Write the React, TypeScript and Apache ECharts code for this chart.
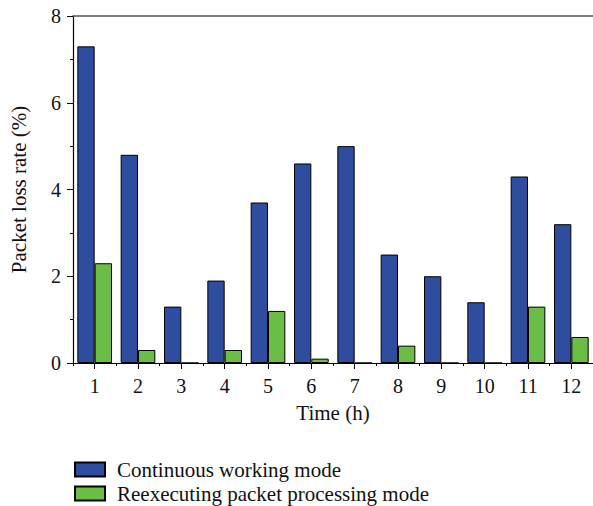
import React, { useEffect, useRef } from "react";
import * as echarts from "echarts";

const categories = ["1", "2", "3", "4", "5", "6", "7", "8", "9", "10", "11", "12"];
const continuousMode = [7.3, 4.8, 1.3, 1.9, 3.7, 4.6, 5.0, 2.5, 2.0, 1.4, 4.3, 3.2];
const reexecutingMode = [2.3, 0.3, 0, 0.3, 1.2, 0.1, 0, 0.4, 0, 0, 1.3, 0.6];
const seriesNames = ["Continuous working mode", "Reexecuting packet processing mode"];

const FONT = "Liberation Serif";

export default function App() {
  const ref = useRef<HTMLDivElement>(null);
  useEffect(() => {
    if (!ref.current) return;
    const chart = echarts.init(ref.current, null, { renderer: "svg" });
    const legendCommon = {
      left: 74,
      padding: 0,
      icon: "rect",
      itemWidth: 30,
      itemHeight: 14,
      textStyle: { fontFamily: FONT, fontSize: 21, color: "#111", padding: [0, 0, 0, 7] },
    };
    chart.setOption({
      animation: false,
      backgroundColor: "#ffffff",
      textStyle: { fontFamily: FONT },
      grid: { left: 72, right: -4, top: 16, bottom: 143 },
      legend: [
        { ...legendCommon, top: 459, data: [seriesNames[0]] },
        { ...legendCommon, top: 483, data: [seriesNames[1]] },
      ],
      xAxis: [
        {
          type: "category",
          data: categories,
          position: "bottom",
          name: "Time (h)",
          nameLocation: "middle",
          nameGap: 39,
          nameTextStyle: { fontFamily: FONT, fontSize: 21, color: "#111" },
          axisLine: { lineStyle: { color: "#000", width: 1.2 } },
          axisTick: { show: true, length: 3, lineStyle: { color: "#000" } },
          axisLabel: { fontFamily: FONT, fontSize: 20, color: "#111", margin: 13 },
        },
        {
          type: "category",
          data: categories,
          position: "bottom",
          axisLine: { show: false },
          axisTick: { show: true, alignWithLabel: true, length: 6, lineStyle: { color: "#000" } },
          axisLabel: { show: false },
        },
        {
          type: "category",
          data: categories,
          position: "top",
          axisLine: { show: true, lineStyle: { color: "#555", width: 1.5 } },
          axisTick: { show: false },
          axisLabel: { show: false },
        },
      ],
      yAxis: {
        type: "value",
        min: 0,
        max: 8,
        interval: 2,
        name: "Packet loss rate (%)",
        nameLocation: "middle",
        nameGap: 44,
        nameTextStyle: { fontFamily: FONT, fontSize: 21, color: "#111" },
        axisLine: { show: true, lineStyle: { color: "#000", width: 1.2 } },
        axisTick: { show: true, length: 6, lineStyle: { color: "#000" } },
        minorTick: { show: true, splitNumber: 2, length: 3, lineStyle: { color: "#000" } },
        splitLine: { show: false },
        axisLabel: { fontFamily: FONT, fontSize: 20, color: "#111", margin: 12 },
      },
      series: [
        {
          name: seriesNames[0],
          type: "bar",
          xAxisIndex: 0,
          data: continuousMode,
          barGap: "0%",
          barCategoryGap: "20%",
          itemStyle: { color: "#2E4D9F", borderColor: "#000", borderWidth: 1 },
        },
        {
          name: seriesNames[1],
          type: "bar",
          xAxisIndex: 0,
          data: reexecutingMode,
          barGap: "0%",
          barCategoryGap: "20%",
          itemStyle: { color: "#6BBE45", borderColor: "#000", borderWidth: 1 },
        },
      ],
    });
    return () => chart.dispose();
  }, []);
  return (
    <div
      ref={ref}
      style={{ position: "fixed", left: 0, top: 0, width: 593, height: 506 }}
    />
  );
}
